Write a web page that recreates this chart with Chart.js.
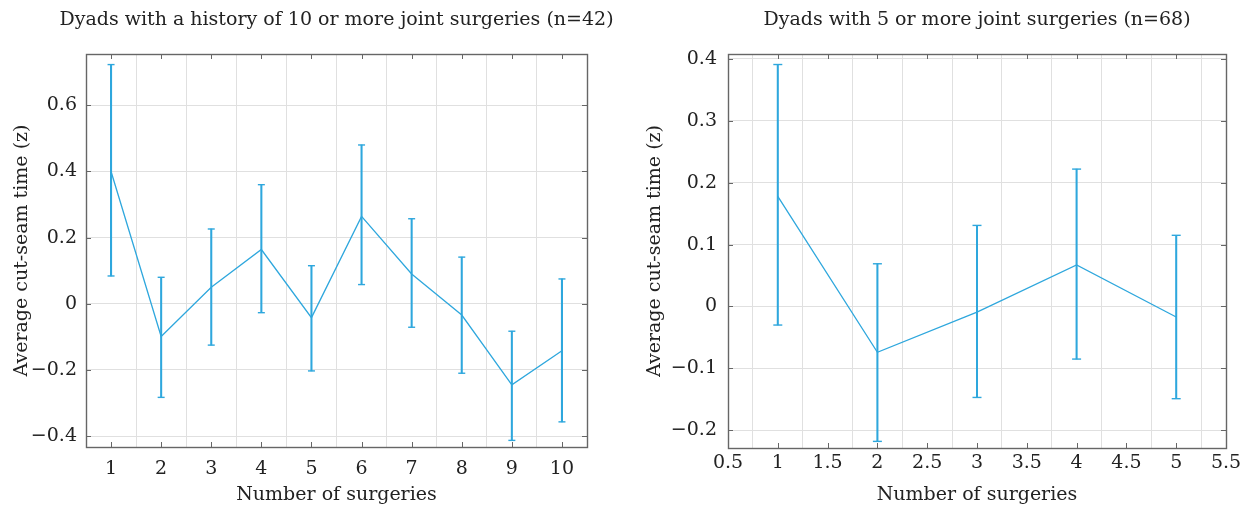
<!DOCTYPE html>
<html>
<head>
<meta charset="utf-8">
<script src="https://cdn.jsdelivr.net/npm/chart.js@4.4.1/dist/chart.umd.min.js"></script>
<style>
  html, body { margin: 0; padding: 0; background: #fff; }
  body { width: 1249px; height: 507px; position: relative; overflow: hidden; }
  .wrap { position: absolute; top: 0; height: 507px; }
</style>
</head>
<body>
<div class="wrap" style="left:630px;width:619px;"><canvas id="c2"></canvas></div>
<div class="wrap" style="left:0;width:673px;"><canvas id="c1"></canvas></div>
<script>
// ---------- data ----------
const leftTitle = 'Dyads with a history of 10 or more joint surgeries (n=42)';
const rightTitle = 'Dyads with 5 or more joint surgeries (n=68)';
const xAxisTitle = 'Number of surgeries';
const yAxisTitle = 'Average cut-seam time (z)';

const leftX     = [1, 2, 3, 4, 5, 6, 7, 8, 9, 10];
const leftMean  = [0.400, -0.099, 0.050, 0.164, -0.042, 0.264, 0.090, -0.034, -0.245, -0.142];
const leftUpper = [0.723, 0.080, 0.226, 0.360, 0.115, 0.480, 0.257, 0.141, -0.083, 0.075];
const leftLower = [0.084, -0.283, -0.125, -0.027, -0.203, 0.058, -0.071, -0.210, -0.413, -0.357];
const leftXTicks = [1, 2, 3, 4, 5, 6, 7, 8, 9, 10];
const leftYTicks = [-0.4, -0.2, 0, 0.2, 0.4, 0.6];

const rightX     = [1, 2, 3, 4, 5];
const rightMean  = [0.178, -0.074, -0.009, 0.067, -0.017];
const rightUpper = [0.391, 0.069, 0.131, 0.222, 0.115];
const rightLower = [-0.030, -0.218, -0.147, -0.085, -0.149];
const rightXTicks = [0.5, 1, 1.5, 2, 2.5, 3, 3.5, 4, 4.5, 5, 5.5];
const rightYTicks = [-0.2, -0.1, 0, 0.1, 0.2, 0.3, 0.4];

// ---------- style ----------
const FONT = "'DejaVu Serif', 'Liberation Serif', serif";
const FS = 19;
const TEXT = '#222222';
const BLUE = '#2EA7DD';
const GRID = '#e0e0e0';
const BOX = '#666666';

Chart.defaults.font.family = FONT;
Chart.defaults.color = TEXT;

const fmt = v => {
  if (Math.abs(v) < 1e-9) return '0';
  const s = String(Math.round(Math.abs(v) * 1000) / 1000);
  return v < 0 ? '\u2212' + s : s;
};

const boxPlugin = {
  id: 'boxTicks',
  afterDraw(chart) {
    const {ctx, chartArea: a, scales: {x, y}} = chart;
    ctx.save();
    ctx.strokeStyle = BOX;
    ctx.lineWidth = 1;
    const tl = 5;
    ctx.beginPath();
    x.ticks.forEach(t => {
      const px = Math.round(x.getPixelForValue(t.value)) + 0.5;
      ctx.moveTo(px, a.top); ctx.lineTo(px, a.top + tl);
      ctx.moveTo(px, a.bottom); ctx.lineTo(px, a.bottom - tl);
    });
    y.ticks.forEach(t => {
      const py = Math.round(y.getPixelForValue(t.value)) + 0.5;
      ctx.moveTo(a.left, py); ctx.lineTo(a.left + tl, py);
      ctx.moveTo(a.right, py); ctx.lineTo(a.right - tl, py);
    });
    ctx.stroke();
    ctx.lineWidth = 1.4;
    ctx.strokeRect(Math.round(a.left) + 0.5, Math.round(a.top) + 0.5,
                   Math.round(a.right - a.left), Math.round(a.bottom - a.top));
    ctx.restore();
  }
};

function makeChart(id, cfg) {
  const xs = cfg.xVals, m = cfg.mean, up = cfg.upper, lo = cfg.lower;
  const scales = {
    x: {
      type: 'linear',
      min: cfg.xMin, max: cfg.xMax,
      offset: false,
      afterBuildTicks: s => { s.ticks = cfg.xTicks.map(v => ({value: v})); },
      afterFit: s => { s.height = cfg.xAxisH; },
      grid: {color: GRID, drawTicks: false, lineWidth: 1},
      border: {display: false},
      ticks: {
        padding: cfg.xTickPad,
        color: TEXT,
        font: {family: FONT, size: FS},
        maxRotation: 0,
        autoSkip: false,
        callback: v => fmt(v)
      },
      title: {
        display: true, text: xAxisTitle, color: TEXT,
        font: {family: FONT, size: FS, lineHeight: 1.2},
        padding: {top: 0, bottom: 0.6}
      }
    },
    y: {
      type: 'linear',
      position: 'left',
      min: cfg.yMin, max: cfg.yMax,
      afterBuildTicks: s => { s.ticks = cfg.yTicks.map(v => ({value: v})); },
      afterFit: s => { s.width = cfg.yAxisW; },
      grid: {color: GRID, drawTicks: false, lineWidth: 1},
      border: {display: false},
      ticks: {
        padding: cfg.yTickPad,
        color: TEXT,
        font: {family: FONT, size: FS},
        autoSkip: false,
        callback: v => fmt(v)
      },
      title: {
        display: true, text: yAxisTitle, color: TEXT,
        font: {family: FONT, size: FS, lineHeight: 1.2},
        padding: {top: cfg.yTitlePad, bottom: 0}
      }
    }
  };
  if (cfg.spacerW) {
    scales.spacer = {
      type: 'linear',
      position: 'right',
      display: true,
      afterFit: s => { s.width = cfg.spacerW; },
      grid: {display: false, drawOnChartArea: false, drawTicks: false},
      border: {display: false},
      ticks: {display: false},
      title: {display: false}
    };
  }
  return new Chart(document.getElementById(id), {
    type: 'line',
    data: {
      datasets: [
        {
          type: 'bar',
          data: xs.map((x, i) => ({x: x, y: [lo[i], up[i]]})),
          backgroundColor: BLUE,
          borderWidth: 0,
          barThickness: 1.4,
          order: 3
        },
        {
          type: 'line',
          data: xs.map((x, i) => ({x: x, y: up[i]})),
          showLine: false,
          pointStyle: 'line',
          pointRadius: cfg.cap,
          pointBorderWidth: 1.4,
          pointBorderColor: BLUE,
          pointBackgroundColor: BLUE,
          order: 2
        },
        {
          type: 'line',
          data: xs.map((x, i) => ({x: x, y: lo[i]})),
          showLine: false,
          pointStyle: 'line',
          pointRadius: cfg.cap,
          pointBorderWidth: 1.4,
          pointBorderColor: BLUE,
          pointBackgroundColor: BLUE,
          order: 2
        },
        {
          type: 'line',
          data: xs.map((x, i) => ({x: x, y: m[i]})),
          borderColor: BLUE,
          borderWidth: 1.3,
          pointRadius: 0,
          tension: 0,
          fill: false,
          order: 1
        }
      ]
    },
    options: {
      responsive: true,
      maintainAspectRatio: false,
      animation: false,
      events: [],
      layout: {padding: {left: 0, right: cfg.padRight, top: 0, bottom: 0}},
      plugins: {
        legend: {display: false},
        tooltip: {enabled: false},
        title: {
          display: true,
          text: cfg.title,
          fullSize: cfg.titleFull,
          color: TEXT,
          font: {family: FONT, size: FS, weight: 'normal', lineHeight: 1.2},
          padding: {top: 9, bottom: 22.2}
        }
      },
      scales: scales
    },
    plugins: [boxPlugin]
  });
}

makeChart('c1', {
  title: leftTitle, titleFull: true,
  xVals: leftX, mean: leftMean, upper: leftUpper, lower: leftLower,
  xTicks: leftXTicks, yTicks: leftYTicks,
  xMin: 0.5, xMax: 10.5, yMin: -0.433, yMax: 0.755,
  padRight: 0, spacerW: 86, xAxisH: 60, yAxisW: 86,
  xTickPad: 10.6, yTickPad: 9, yTitlePad: 10.6, cap: 3.5
});

makeChart('c2', {
  title: rightTitle, titleFull: false,
  xVals: rightX, mean: rightMean, upper: rightUpper, lower: rightLower,
  xTicks: rightXTicks, yTicks: rightYTicks,
  xMin: 0.5, xMax: 5.5, yMin: -0.2287, yMax: 0.408,
  padRight: 23, spacerW: 0, xAxisH: 59, yAxisW: 98,
  xTickPad: 3.6, yTickPad: 11, yTitlePad: 13.6, cap: 4.5
});
</script>
</body>
</html>
